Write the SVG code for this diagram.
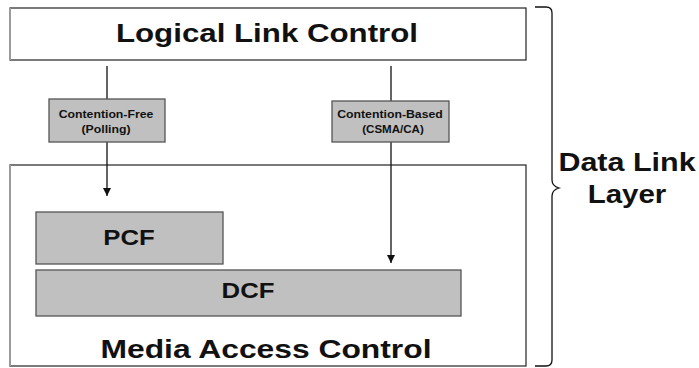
<svg xmlns="http://www.w3.org/2000/svg" width="699" height="368" viewBox="0 0 699 368">
<defs>
<style>
text{font-family:"Liberation Sans",Arial,sans-serif;font-weight:bold;fill:#111;text-anchor:middle;}
.big{font-size:26.5px;}
.side-label{font-size:25px;}
.mid{font-size:22px;}
.small{font-size:10.5px;}
.layer{fill:#fff;stroke:#222;stroke-width:1.2;}
.gbox{fill:#c0c0c0;stroke:#555;stroke-width:1.3;}
.edge{fill:none;stroke:#111;stroke-width:1.3;}
.side{stroke:#9a9a9a;stroke-width:2;}
</style>
<marker id="arr" viewBox="0 0 10 10" refX="10" refY="5" markerWidth="9" markerHeight="8" markerUnits="userSpaceOnUse" orient="auto">
<path d="M0,0 L10,5 L0,10 z" fill="#111"/>
</marker>
</defs>
<rect width="699" height="368" fill="#fff"/>
<g id="llc">
<rect class="layer" x="10" y="8" width="516" height="52"/>
<line class="side" x1="10" y1="8" x2="10" y2="60"/>
<text class="big" transform="translate(267,42) scale(1.18,1)">Logical Link Control</text>
</g>
<g id="mac">
<rect class="layer" x="10" y="165" width="516" height="201"/>
<line class="side" x1="10" y1="165" x2="10" y2="366"/>
<text class="big" transform="translate(266,358) scale(1.2,1)">Media Access Control</text>
</g>
<g id="connectors">
<line class="edge" x1="107" y1="66" x2="107" y2="99"/>
<line class="edge" x1="107" y1="142" x2="107" y2="196" marker-end="url(#arr)"/>
<line class="edge" x1="391" y1="66" x2="391" y2="101"/>
<line class="edge" x1="391" y1="142" x2="391" y2="263" marker-end="url(#arr)"/>
</g>
<g id="contention-free">
<rect class="gbox" x="49" y="99" width="116" height="43"/>
<text class="small" transform="translate(106,118) scale(1.17,1)">Contention-Free</text>
<text class="small" transform="translate(106,133) scale(1.17,1)">(Polling)</text>
</g>
<g id="contention-based">
<rect class="gbox" x="332" y="101" width="117" height="41"/>
<text class="small" transform="translate(390,118) scale(1.17,1)">Contention-Based</text>
<text class="small" transform="translate(393,133) scale(1.1,1)">(CSMA/CA)</text>
</g>
<g id="pcf">
<rect class="gbox" x="36" y="212" width="187" height="52"/>
<text class="mid" transform="translate(129,245) scale(1.17,1)">PCF</text>
</g>
<g id="dcf">
<rect class="gbox" x="36" y="270" width="425" height="46"/>
<text class="mid" transform="translate(248,298) scale(1.17,1)">DCF</text>
</g>
<g id="brace">
<path class="edge" stroke-width="2" d="M535,7 L546,7 Q552,7 552,13 L552,180 Q552,186 559,188 Q552,190 552,196 L552,360 Q552,366 546,366 L535,366"/>
</g>
<g id="data-link-layer">
<text class="side-label" transform="translate(627,171) scale(1.22,1)">Data Link</text>
<text class="side-label" transform="translate(627,203) scale(1.18,1)">Layer</text>
</g>
</svg>
